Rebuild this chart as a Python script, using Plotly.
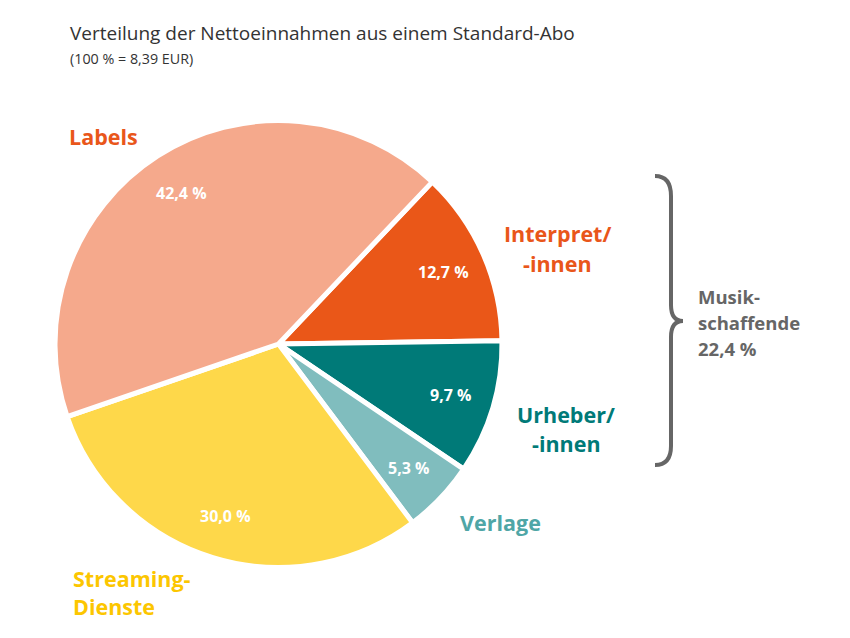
import math
import plotly.graph_objects as go

# ---- data ----
categories = ["Interpret/-innen", "Urheber/-innen", "Verlage", "Streaming-Dienste", "Labels"]
values = [12.7, 9.7, 5.3, 30.0, 42.4]
value_labels = ["12,7 %", "9,7 %", "5,3 %", "30,0 %", "42,4 %"]
slice_colors = ["#EA5718", "#007A78", "#80BDBE", "#FED84A", "#F5A98C"]
label_colors = ["#E9561A", "#007A78", "#4FA6A6", "#FCC600", "#E9561A"]
group_label = ["Musik-", "schaffende", "22,4 %"]
title = "Verteilung der Nettoeinnahmen aus einem Standard-Abo"
subtitle = "(100 % = 8,39 EUR)"

W, H = 850, 638
FONT = "Open Sans"

def px(x):
    return x / W

def py(y):
    return 1 - y / H

# pie geometry (pixels)
cx, cy, R = 278.5, 344.0, 223.5
rotation = 43.5

fig = go.Figure()
fig.add_trace(go.Pie(
    labels=categories,
    values=values,
    sort=False,
    direction="clockwise",
    rotation=rotation,
    marker=dict(colors=slice_colors, line=dict(color="white", width=5)),
    textinfo="none",
    hoverinfo="label+percent",
    showlegend=False,
    domain=dict(x=[px(cx - R), px(cx + R)], y=[py(cy + R), py(cy - R)]),
))

annotations = []
# percentage labels at mid-angle of each slice
total = sum(values)
start = rotation
r_text = 180
for v, lab in zip(values, value_labels):
    ang = start + 360 * v / total / 2
    start += 360 * v / total
    a = math.radians(ang)
    x = cx + r_text * math.sin(a)
    y = cy - r_text * math.cos(a)
    annotations.append(dict(x=px(x), y=py(y), xref="paper", yref="paper", text=lab,
                            showarrow=False, xanchor="center", yanchor="middle",
                            font=dict(family=FONT, size=16, color="white", weight="bold")))

# category labels (text lines with anchor)
cat_lines = [
    (["Interpret/", "-innen"], 557, [233, 263], "center", label_colors[0]),
    (["Urheber/", "-innen"], 566, [414, 443], "center", label_colors[1]),
    (["Verlage"], 500, [522], "center", label_colors[2]),
    (["Streaming-", "Dienste"], 71, [578, 606], "left", label_colors[3]),
    (["Labels"], 67, [137], "left", label_colors[4]),
]
for lines, x, ys, anchor, col in cat_lines:
    for t, y in zip(lines, ys):
        annotations.append(dict(x=px(x), y=py(y), xref="paper", yref="paper", text=t,
                                showarrow=False, xanchor=anchor, yanchor="middle",
                                font=dict(family=FONT, size=21.5, color=col, weight="bold")))

for t, y in zip(group_label, [296, 322, 348]):
    annotations.append(dict(x=px(696), y=py(y), xref="paper", yref="paper", text=t,
                            showarrow=False, xanchor="left", yanchor="middle",
                            font=dict(family=FONT, size=18.5, color="#666666", weight="bold")))

annotations.append(dict(x=px(68), y=py(33), xref="paper", yref="paper", text=title,
                        showarrow=False, xanchor="left", yanchor="middle",
                        font=dict(family=FONT, size=19, color="#333333")))
annotations.append(dict(x=px(68), y=py(58), xref="paper", yref="paper", text=subtitle,
                        showarrow=False, xanchor="left", yanchor="middle",
                        font=dict(family=FONT, size=14.3, color="#333333")))

# curly brace
pts = [(655, 176), (671, 176), (671, 196), (671, 305), (671, 321), (683, 321),
       (671, 321), (671, 337), (671, 446), (671, 465), (655, 465)]
P = [f"{px(x):.5f},{py(y):.5f}" for x, y in pts]
path = (f"M {P[0]} Q {P[1]} {P[2]} L {P[3]} Q {P[4]} {P[5]} "
        f"Q {P[6]} {P[7]} L {P[8]} Q {P[9]} {P[10]}")

fig.update_layout(
    width=W, height=H,
    margin=dict(l=0, r=0, t=0, b=0),
    paper_bgcolor="white",
    plot_bgcolor="white",
    annotations=annotations,
    shapes=[dict(type="path", path=path, xref="paper", yref="paper",
                 line=dict(color="#666666", width=4))],
)

fig.write_html("out.html", config={"displayModeBar": False},
               post_script="document.body.style.margin='0';")
